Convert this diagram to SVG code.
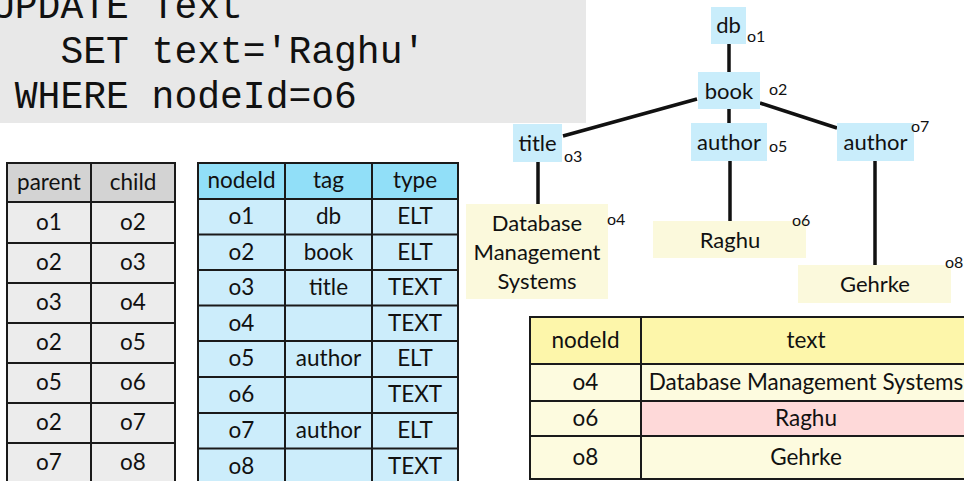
<svg xmlns="http://www.w3.org/2000/svg" width="964" height="481" viewBox="0 0 964 481">
<style>
text{font-family:Lato,"Open Sans","Liberation Sans",sans-serif;fill:#111;}
.code{font-family:"Liberation Mono","DejaVu Sans Mono",monospace;font-size:38px;}
.t{font-size:22.5px;text-anchor:middle;}
.lbl{font-size:22px;text-anchor:middle;}
.id{font-size:16px;}
.grid{stroke:#1a1a1a;stroke-width:2;fill:none;}
.elt{fill:#c9edfb;}
.txt{fill:#fbf9dc;}
.edge{stroke:#111;stroke-width:3.5;fill:none;}
</style>
<rect x="0" y="0" width="586" height="123" fill="#e8e8e8"/>
<text class="code" x="-8" y="18">UPDATE Text</text>
<text class="code" x="60.4" y="63">SET text='Raghu'</text>
<text class="code" x="14.8" y="108">WHERE nodeId=o6</text>

<g id="parent-child-table">
<rect x="7" y="163" width="168" height="39" fill="#d3d3d3"/>
<rect x="7" y="202" width="168" height="281" fill="#ececec"/>
<path class="grid" d="M7 163H175V483H7Z M91 163V483 M7 202H175 M7 243H175 M7 283H175 M7 323H175 M7 363H175 M7 403H175 M7 443H175"/>
<text class="t" x="49" y="190">parent</text><text class="t" x="133" y="190">child</text>
<text class="t" x="49" y="230">o1</text><text class="t" x="133" y="230">o2</text>
<text class="t" x="49" y="270">o2</text><text class="t" x="133" y="270">o3</text>
<text class="t" x="49" y="310">o3</text><text class="t" x="133" y="310">o4</text>
<text class="t" x="49" y="350">o2</text><text class="t" x="133" y="350">o5</text>
<text class="t" x="49" y="390">o5</text><text class="t" x="133" y="390">o6</text>
<text class="t" x="49" y="430">o2</text><text class="t" x="133" y="430">o7</text>
<text class="t" x="49" y="470">o7</text><text class="t" x="133" y="470">o8</text>
</g>

<g id="node-table">
<rect x="198" y="163" width="260" height="36" fill="#91dff8"/>
<rect x="198" y="199" width="260" height="286" fill="#ccedfb"/>
<path class="grid" d="M198 163H458V485H198Z M285 163V485 M372 163V485 M198 199H458 M198 234.5H458 M198 270H458 M198 305.5H458 M198 341H458 M198 377H458 M198 413H458 M198 448.5H458"/>
<text class="t" x="241.5" y="188">nodeId</text><text class="t" x="328.5" y="188">tag</text><text class="t" x="415" y="188">type</text>
<text class="t" x="241.5" y="224">o1</text><text class="t" x="328.5" y="224">db</text><text class="t" x="415" y="224">ELT</text>
<text class="t" x="241.5" y="260">o2</text><text class="t" x="328.5" y="260">book</text><text class="t" x="415" y="260">ELT</text>
<text class="t" x="241.5" y="295">o3</text><text class="t" x="328.5" y="295">title</text><text class="t" x="415" y="295">TEXT</text>
<text class="t" x="241.5" y="331">o4</text><text class="t" x="415" y="331">TEXT</text>
<text class="t" x="241.5" y="366">o5</text><text class="t" x="328.5" y="366">author</text><text class="t" x="415" y="366">ELT</text>
<text class="t" x="241.5" y="402">o6</text><text class="t" x="415" y="402">TEXT</text>
<text class="t" x="241.5" y="438">o7</text><text class="t" x="328.5" y="438">author</text><text class="t" x="415" y="438">ELT</text>
<text class="t" x="241.5" y="474">o8</text><text class="t" x="415" y="474">TEXT</text>
</g>

<g id="connectors">
<path class="edge" d="M729 44V72"/>
<path class="edge" d="M697 99L563 136"/>
<path class="edge" d="M729 109V123"/>
<path class="edge" d="M760 103L837 128"/>
<path class="edge" d="M538 162V204"/>
<path class="edge" d="M730 161V221"/>
<path class="edge" d="M875 161V265"/>
</g>

<g id="o1"><rect class="elt" x="711" y="7" width="35" height="37"/><text class="lbl" x="728.5" y="33">db</text><text class="id" x="747" y="42">o1</text></g>
<g id="o2"><rect class="elt" x="698" y="72" width="62" height="37"/><text class="lbl" x="729" y="99">book</text><text class="id" x="769" y="95">o2</text></g>
<g id="o3"><rect class="elt" x="513" y="124" width="49" height="38"/><text class="lbl" x="537.5" y="151">title</text><text class="id" x="564" y="162">o3</text></g>
<g id="o5"><rect class="elt" x="691" y="123" width="76" height="38"/><text class="lbl" x="729" y="150">author</text><text class="id" x="769" y="152">o5</text></g>
<g id="o7"><rect class="elt" x="837" y="123" width="77" height="38"/><text class="lbl" x="875.5" y="150">author</text><text class="id" x="911" y="132">o7</text></g>
<g id="o4"><rect class="txt" x="466" y="204" width="142" height="95"/><text class="lbl" x="537" y="231">Database</text><text class="lbl" x="537" y="260">Management</text><text class="lbl" x="537" y="289">Systems</text><text class="id" x="607" y="225">o4</text></g>
<g id="o6"><rect class="txt" x="653" y="221" width="153" height="37"/><text class="lbl" x="730" y="248">Raghu</text><text class="id" x="792" y="226">o6</text></g>
<g id="o8"><rect class="txt" x="798" y="265" width="153" height="38"/><text class="lbl" x="875" y="292">Gehrke</text><text class="id" x="945" y="268">o8</text></g>

<g id="text-table">
<rect x="530" y="317" width="445" height="47" fill="#fdf6aa"/>
<rect x="530" y="364" width="445" height="115" fill="#fdfbdf"/>
<rect x="641" y="401" width="334" height="35" fill="#fed9d9"/>
<path class="grid" d="M975 317H530V479H975 M641 317V479 M530 364H975 M530 401H975 M530 436H975"/>
<text class="t" x="585.5" y="348">nodeId</text><text class="t" x="806" y="348">text</text>
<text class="t" x="585.5" y="390">o4</text><text class="t" x="806" y="390">Database Management Systems</text>
<text class="t" x="585.5" y="426">o6</text><text class="t" x="806" y="426">Raghu</text>
<text class="t" x="585.5" y="465">o8</text><text class="t" x="806" y="465">Gehrke</text>
</g>
</svg>
